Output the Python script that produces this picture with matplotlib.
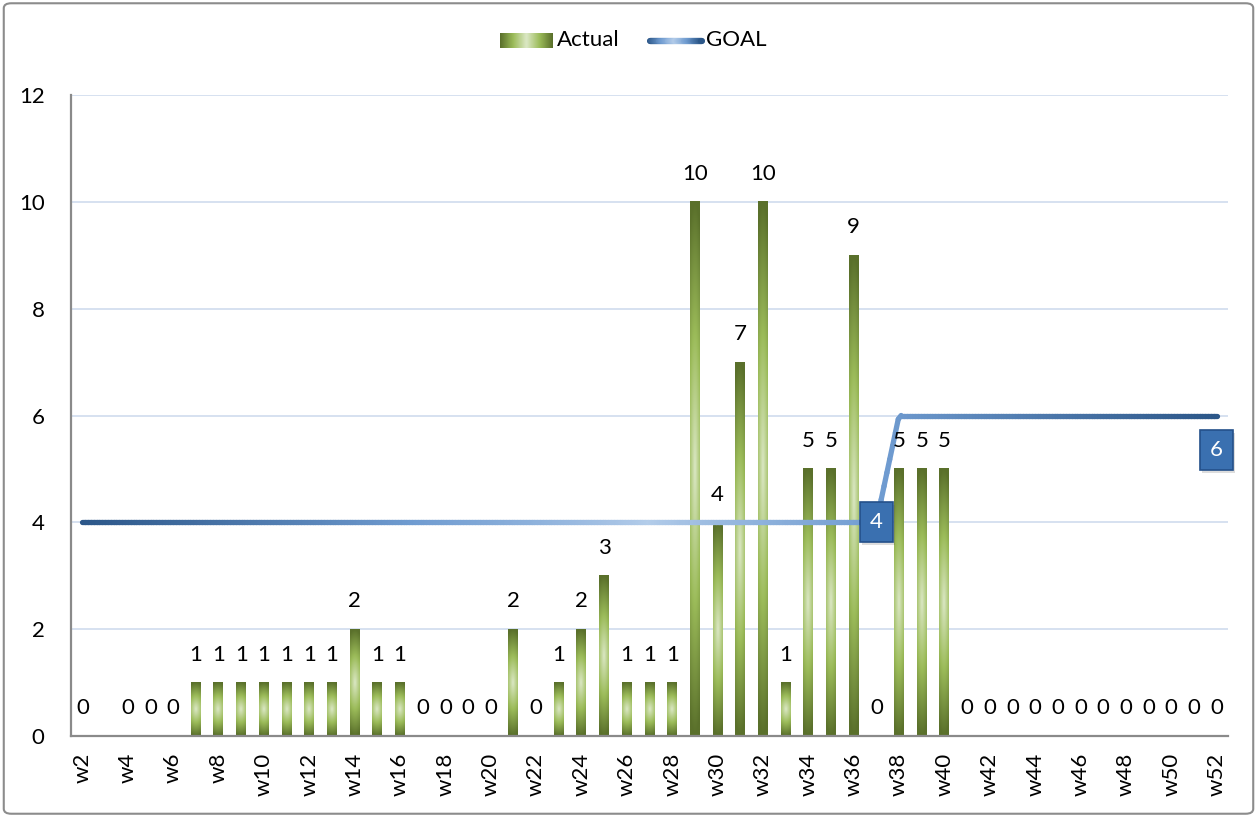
import numpy as np
import matplotlib
matplotlib.use('Agg')
import matplotlib.pyplot as plt
from matplotlib.collections import LineCollection
from matplotlib.colors import LinearSegmentedColormap
from matplotlib.patches import FancyBboxPatch
import matplotlib.patheffects as pe

plt.rcParams['font.family'] = ['Lato', 'DejaVu Sans']

# weekly data
weeks = ['w%d' % i for i in range(2, 53)]
actual = [0, None, 0, 0, 0, 1, 1, 1, 1, 1, 1, 1, 2, 1, 1, 0, 0, 0, 0, 2,
          0, 1, 2, 3, 1, 1, 1, 10, 4, 7, 10, 1, 5, 5, 9, 0, 5, 5, 5,
          0, 0, 0, 0, 0, 0, 0, 0, 0, 0, 0, 0]
goal = [4] * 36 + [6] * 15
goal_labels = {'w37': (0, 0), 'w52': (0, -25)}

x = np.arange(len(weeks))
bar_w = 0.44
fs = 16

green = LinearSegmentedColormap.from_list('grn', ['#d9e6c1', '#9bbb59', '#5a702b'])
blue = LinearSegmentedColormap.from_list('blu', ['#b4cdea', '#6f9bd0', '#2c5789'])

fig = plt.figure(figsize=(12.57, 8.17), dpi=100)
ax = fig.add_axes([71 / 1257, 1 - 736 / 817, 1157 / 1257, 641 / 817])

# bars: light in the middle, dark toward the edges
gx, gy = np.meshgrid(np.linspace(-1, 1, 30), np.linspace(-1, 1, 120))
grad = np.clip(np.sqrt(0.15 * gx ** 2 + gy ** 2), 0, 1)
for xi, v in zip(x, actual):
    if v is None:
        continue
    if v > 0:
        ax.imshow(grad, cmap=green, extent=[xi - bar_w / 2, xi + bar_w / 2, 0, v],
                  aspect='auto', origin='lower', zorder=2, interpolation='bilinear')
    ax.annotate(str(v), (xi, v), xytext=(0, 20), textcoords='offset points',
                ha='center', va='center', fontsize=fs, zorder=5)

# goal line with a colour gradient along its length
gxs = np.linspace(0, len(weeks) - 1, 400)
gys = np.interp(gxs, x, goal)
pts = np.column_stack([gxs, gys]).reshape(-1, 1, 2)
segs = np.concatenate([pts[:-1], pts[1:]], axis=1)
f = np.linspace(0, 1, len(segs))
shade = np.clip(np.abs(f - 0.5) / 0.5, 0, 1) ** 0.8
lc = LineCollection(segs, colors=blue(shade), linewidths=3.8, capstyle='round', zorder=3)
ax.add_collection(lc)

for wk, off in goal_labels.items():
    i = weeks.index(wk)
    t = ax.annotate(str(goal[i]), (x[i], goal[i]), xytext=off, textcoords='offset points',
                    ha='center', va='center', fontsize=fs, color='white', zorder=6,
                    bbox=dict(boxstyle='square,pad=0.45', fc='#3a70b0', ec='#24508a', lw=1.2))
    t.get_bbox_patch().set_path_effects([pe.SimplePatchShadow(offset=(1.5, -2), alpha=0.2,
                                                              shadow_rgbFace='#555555'),
                                         pe.Normal()])

ax.set_xlim(-0.5, len(weeks) - 0.5)
ax.set_ylim(0, 12)
ax.set_yticks(range(0, 13, 2))
ax.set_xticks(x[::2])
ax.set_xticklabels(weeks[::2], rotation=90, fontsize=fs)
ax.tick_params(axis='y', length=0, pad=19, labelsize=fs)
ax.tick_params(axis='x', length=0, pad=12)
ax.grid(axis='y', color='#cfdcee', lw=1.2, zorder=0)
ax.set_axisbelow(True)
for s in ['top', 'right']:
    ax.spines[s].set_visible(False)
for s in ['left', 'bottom']:
    ax.spines[s].set_color('#8a8a8a')
    ax.spines[s].set_linewidth(1.6)

# legend drawn by hand so the swatches keep their gradients
lax = fig.add_axes([500 / 1257, 1 - 48 / 817, 53 / 1257, 15 / 817])
lg = np.abs(np.linspace(-1, 1, 60))[None, :]
lax.imshow(lg, cmap=green, aspect='auto', interpolation='bilinear')
lax.axis('off')
fig.text(557 / 1257, 1 - 40 / 817, 'Actual', fontsize=fs, va='center', ha='left')
lax2 = fig.add_axes([647 / 1257, 1 - 48 / 817, 58 / 1257, 15 / 817])
lx = np.linspace(0, 1, 60)
lp = np.column_stack([lx, np.full_like(lx, 0.5)]).reshape(-1, 1, 2)
lsegs = np.concatenate([lp[:-1], lp[1:]], axis=1)
lax2.add_collection(LineCollection(lsegs, colors=blue(np.abs(np.linspace(-1, 1, 59))),
                                   linewidths=4.5, capstyle='round'))
lax2.set_xlim(-0.05, 1.05)
lax2.set_ylim(0, 1)
lax2.axis('off')
fig.text(706 / 1257, 1 - 40 / 817, 'GOAL', fontsize=fs, va='center', ha='left')

# outer frame
fig.patches.append(FancyBboxPatch((0.003, 0.004), 0.994, 0.992, boxstyle='round,pad=0,rounding_size=0.006',
                                  transform=fig.transFigure, fill=False, ec='#8c8c8c', lw=1.5))

fig.savefig('out.png', dpi=100)
